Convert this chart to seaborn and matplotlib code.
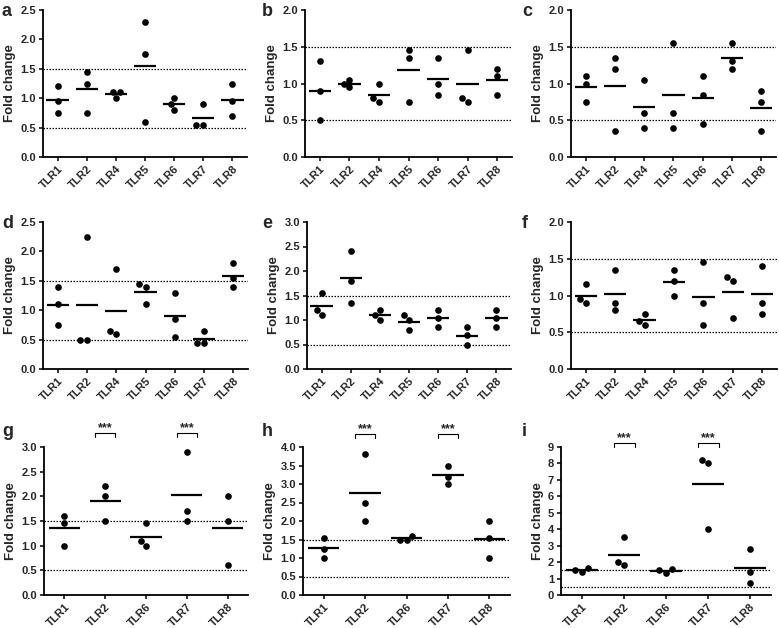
import matplotlib
matplotlib.use("Agg")
import matplotlib.pyplot as plt
import seaborn as sns
import pandas as pd
import numpy as np

# ---------------- data ----------------
cats7 = ["TLR1", "TLR2", "TLR4", "TLR5", "TLR6", "TLR7", "TLR8"]
cats5 = ["TLR1", "TLR2", "TLR6", "TLR7", "TLR8"]

a_vals = [[1.2, 0.95, 0.75], [1.45, 1.25, 0.75], [1.1, 1.1, 1.0], [2.3, 1.75, 0.6],
          [1.0, 0.9, 0.8], [0.9, 0.55, 0.55], [1.25, 0.95, 0.7]]
b_vals = [[1.3, 0.9, 0.5], [1.05, 1.0, 0.95], [1.0, 0.8, 0.75], [1.45, 1.35, 0.75],
          [1.35, 1.0, 0.85], [1.45, 0.8, 0.75], [1.2, 1.1, 0.85]]
c_vals = [[1.1, 1.0, 0.75], [1.35, 1.2, 0.35], [1.05, 0.6, 0.4], [1.55, 0.6, 0.4],
          [1.1, 0.85, 0.45], [1.55, 1.3, 1.2], [0.9, 0.75, 0.35]]
d_vals = [[1.4, 1.1, 0.75], [2.25, 0.5, 0.5], [1.7, 0.65, 0.6], [1.45, 1.4, 1.1],
          [1.3, 0.85, 0.55], [0.65, 0.45, 0.45], [1.8, 1.55, 1.4]]
e_vals = [[1.55, 1.2, 1.1], [2.4, 1.8, 1.35], [1.2, 1.1, 1.0], [1.1, 1.0, 0.8],
          [1.2, 1.05, 0.85], [0.85, 0.7, 0.5], [1.2, 1.05, 0.85]]
f_vals = [[1.15, 0.95, 0.9], [1.35, 0.9, 0.8], [0.75, 0.65, 0.6], [1.35, 1.2, 1.0],
          [1.45, 0.9, 0.6], [1.25, 1.2, 0.7], [1.4, 0.9, 0.75]]
g_vals = [[1.6, 1.45, 1.0], [2.2, 2.0, 1.5], [1.45, 1.1, 1.0], [2.9, 1.7, 1.5],
          [2.0, 1.5, 0.6]]
h_vals = [[1.55, 1.25, 1.0], [3.8, 2.5, 2.0], [1.6, 1.5, 1.5], [3.5, 3.2, 3.0],
          [2.0, 1.55, 1.0]]
i_vals = [[1.65, 1.5, 1.4], [3.5, 2.0, 1.8], [1.6, 1.5, 1.35], [8.2, 8.0, 4.0],
          [2.8, 1.4, 0.7]]

panel_letters = ["a", "b", "c", "d", "e", "f", "g", "h", "i"]
panel_ymax = [2.5, 2.0, 2.0, 2.5, 3.0, 2.0, 3.0, 4.0, 9.0]
panel_ystep = [0.5, 0.5, 0.5, 0.5, 0.5, 0.5, 0.5, 0.5, 1.0]
thresholds = [0.5, 1.5]
sig_labels = ["TLR2", "TLR7"]   # categories marked *** in panels g, h, i
sig_text = "***"

# ---------------- style ----------------
sns.set_style("ticks")
plt.rcParams["font.family"] = ["Liberation Sans", "DejaVu Sans"]
plt.rcParams["font.weight"] = "bold"
plt.rcParams["axes.labelweight"] = "bold"

W, H = 779, 628
fig = plt.figure(figsize=(W / 100, H / 100), dpi=100)

# axes rectangles in pixels: (left, top, right, bottom)
rects = [
    (43, 10, 247, 157), (305, 10, 512, 157), (571, 10, 776, 157),
    (43, 222, 248, 369), (307, 222, 511, 369), (571, 222, 777, 369),
    (44, 447, 248, 595), (303, 447, 510, 595), (561, 447, 771, 595),
]
letter_pos = [(2, 11), (262, 11), (522, 11), (2, 223), (262, 223), (522, 223),
              (2, 432), (262, 432), (522, 432)]
bracket_h = [None] * 6 + [1.095, 1.09, 1.03]

all_vals = [a_vals, b_vals, c_vals, d_vals, e_vals, f_vals, g_vals, h_vals, i_vals]

for k, vals in enumerate(all_vals):
    cats = cats7 if len(vals) == 7 else cats5
    rows = [(c, v) for c, vs in zip(cats, vals) for v in vs]
    df = pd.DataFrame(rows, columns=["gene", "fold"])
    l, t, r, b = rects[k]
    ax = fig.add_axes([l / W, 1 - b / H, (r - l) / W, (b - t) / H])

    for th in thresholds:
        ax.axhline(th, color="black", ls=(0, (1.2, 1.2)), lw=0.9, zorder=1)

    sns.swarmplot(data=df, x="gene", y="fold", order=cats, color="black",
                  size=4.8, ax=ax, zorder=3)

    means = df.groupby("gene", sort=False)["fold"].mean().reindex(cats)
    xs = np.arange(len(cats))
    ax.hlines(means.values, xs - 0.38, xs + 0.38, color="black", lw=1.6, zorder=2)

    ymax = panel_ymax[k]
    step = panel_ystep[k]
    ax.set_ylim(0, ymax)
    ticks = np.arange(0, ymax + step / 2, step)
    ax.set_yticks(ticks)
    if step < 1:
        ax.set_yticklabels([f"{v:.1f}" for v in ticks])
    else:
        ax.set_yticklabels([f"{int(v)}" for v in ticks])
    ax.set_xlim(-0.5, len(cats) - 0.5)
    ax.set_xlabel("")
    ax.set_ylabel("Fold change", fontsize=9.5, fontweight="bold", labelpad=3)
    ax.tick_params(axis="both", labelsize=8, length=3, width=1.1, pad=2, color="black")
    for lab in ax.get_xticklabels():
        lab.set_rotation(45)
        lab.set_ha("right")
        lab.set_rotation_mode("anchor")
        lab.set_fontweight("bold")
    for lab in ax.get_yticklabels():
        lab.set_fontweight("bold")
    sns.despine(ax=ax)
    for s in ["left", "bottom"]:
        ax.spines[s].set_linewidth(1.3)
        ax.spines[s].set_color("black")

    if bracket_h[k] is not None:
        tr = ax.get_xaxis_transform()
        for name in sig_labels:
            xi = cats.index(name)
            yb = bracket_h[k]
            leg = 4 / (b - t)
            ax.plot([xi - 0.25, xi - 0.25, xi + 0.25, xi + 0.25],
                    [yb - leg, yb, yb, yb - leg], color="black", lw=0.8,
                    transform=tr, clip_on=False)
            ax.text(xi, yb - 0.01, sig_text, transform=tr, ha="center", va="bottom",
                    fontsize=9, fontweight="bold")

    lx, ly = letter_pos[k]
    fig.text(lx / W, 1 - ly / H, panel_letters[k], fontsize=13, fontweight="bold",
             ha="left", va="center")

fig.savefig("out.png", dpi=100)
